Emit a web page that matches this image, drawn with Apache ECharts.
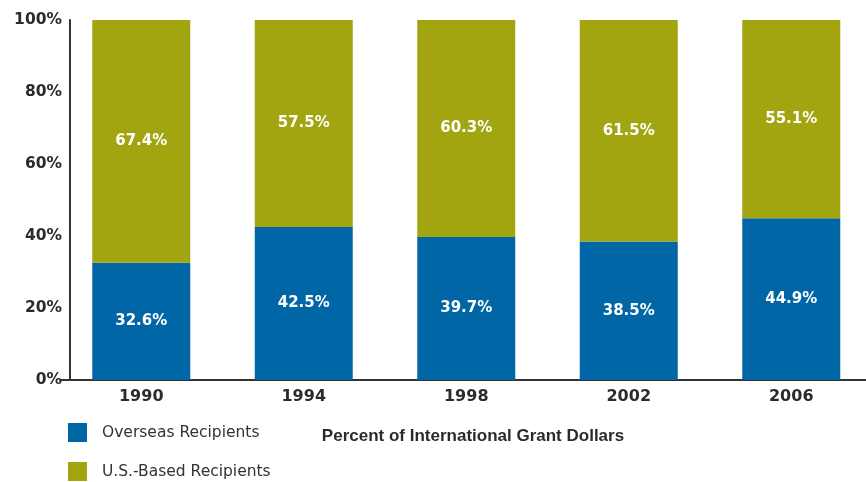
<!DOCTYPE html>
<html><head><meta charset="utf-8">
<script src="https://cdn.jsdelivr.net/npm/echarts@6/dist/echarts.min.js"></script>
<style>html,body{margin:0;padding:0;background:#fff;overflow:hidden;width:866px;height:482px}#c{width:880px;height:482px}</style>
</head><body><div id="c"></div>
<script>
const categories = ['1990', '1994', '1998', '2002', '2006'];
const overseas = [32.6, 42.5, 39.7, 38.5, 44.9];
const usBased = [67.4, 57.5, 60.3, 61.5, 55.1];
const yTicks = [0, 20, 40, 60, 80, 100];
const legendNames = ['Overseas Recipients', 'U.S.-Based Recipients'];
const chartTitle = 'Percent of International Grant Dollars';

const chart = echarts.init(document.getElementById('c'));
const numFont = '"DejaVu Sans", sans-serif';
const txtFont = '"Liberation Sans", Arial, sans-serif';
const lbl = {
  show: true, position: 'inside', color: '#fff', fontSize: 15, fontWeight: 'bold',
  fontFamily: numFont, formatter: p => p.value.toFixed(1) + '%'
};
const legendBase = {
  orient: 'vertical', left: 68, itemWidth: 19, itemHeight: 19,
  icon: 'rect', textStyle: { fontSize: 15.5, color: '#333', fontFamily: numFont, padding: [5, 0, 0, 10] }, itemGap: 15
};
chart.setOption({
  animation: false,
  textStyle: { fontFamily: txtFont },
  title: {
    text: chartTitle,
    left: 468, top: 423, textAlign: 'center',
    textStyle: { fontSize: 17, fontWeight: 'bold', color: '#2b2b2b', fontFamily: txtFont }
  },
  legend: [
    Object.assign({}, legendBase, { top: 423, padding: 0, data: [legendNames[0]] }),
    Object.assign({}, legendBase, { top: 462, padding: 0, data: [legendNames[1]] })
  ],
  grid: { left: 60, width: 812.5, top: 20, height: 360, containLabel: false },
  xAxis: {
    type: 'category', data: categories,
    axisLine: { lineStyle: { color: '#333', width: 2 } },
    axisTick: { show: false },
    axisLabel: { color: '#2b2b2b', fontSize: 16, fontWeight: 'bold', margin: 9, fontFamily: numFont }
  },
  yAxis: {
    type: 'value', min: 0, max: 100, interval: 20, offset: -10,
    axisLine: { show: true, lineStyle: { color: '#333', width: 2 } },
    axisTick: { show: false },
    splitLine: { show: false },
    axisLabel: {
      color: '#2b2b2b', fontSize: 15.5, fontWeight: 'bold', margin: 8, fontFamily: numFont,
      formatter: v => yTicks.includes(v) ? v + '%' : ''
    }
  },
  series: [
    { name: legendNames[0], type: 'bar', stack: 'a', data: overseas, barWidth: 98,
      itemStyle: { color: '#0066a6' }, label: lbl },
    { name: legendNames[1], type: 'bar', stack: 'a', data: usBased, barWidth: 98,
      itemStyle: { color: '#a3a510' }, label: lbl }
  ]
});
</script></body></html>
